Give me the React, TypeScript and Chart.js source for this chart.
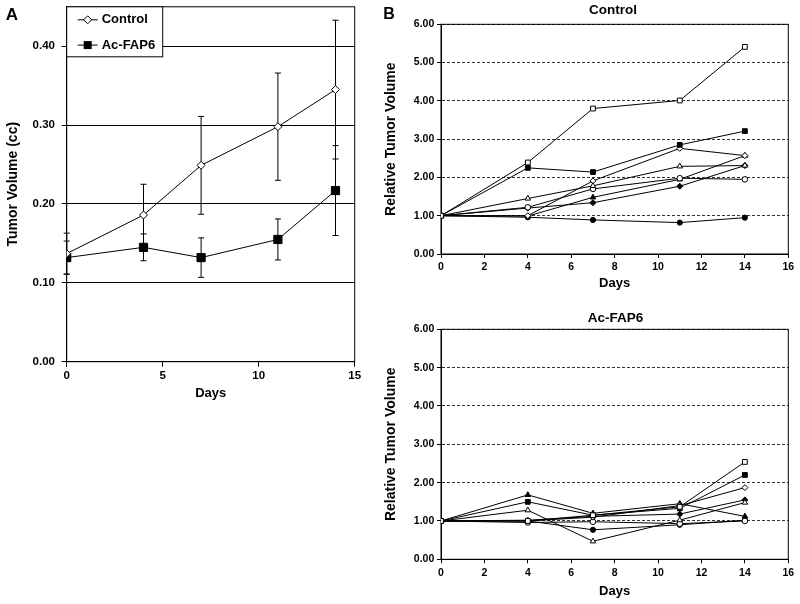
import React, { useEffect, useRef } from 'react';
import { Chart, registerables } from 'chart.js';
Chart.register(...registerables);

const FONT = "'Liberation Sans', Arial, Helvetica, sans-serif";

// ---------- Panel A data ----------
const daysA = [0, 4, 7, 11, 14];
const controlMean = [0.137, 0.186, 0.249, 0.298, 0.345];
const controlErr = [0.026, 0.039, 0.062, 0.068, 0.088];
const acMean = [0.132, 0.145, 0.132, 0.155, 0.217];
const acErr = [0.021, 0.017, 0.025, 0.026, 0.057];

// ---------- Panel B data ----------
const daysB = [0, 4, 7, 11, 14];
// Control mice
const ctrlOpenSquare = [1, 2.39, 3.8, 4.01, 5.41];
const ctrlFilledSquare = [1, 2.25, 2.14, 2.85, 3.21];
const ctrlOpenTriangle = [1, 1.45, 1.78, 2.29, 2.31];
const ctrlOpenDiamond = [1, 1.0, 1.91, 2.76, 2.57];
const ctrlOpenCircle = [1, 1.22, 1.7, 1.98, 1.95];
const ctrlFilledTriangle = [1, 0.99, 1.48, 1.95, 2.57];
const ctrlFilledDiamond = [1, 1.2, 1.34, 1.77, 2.31];
const ctrlFilledCircle = [1, 0.96, 0.89, 0.82, 0.95];
// Ac-FAP6 mice
const acOpenSquare = [1, 1.0, 1.15, 1.37, 2.54];
const acFilledSquare = [1, 1.5, 1.15, 1.33, 2.2];
const acOpenDiamond = [1, 1.0, 1.1, 1.4, 1.87];
const acFilledTriangle = [1, 1.68, 1.2, 1.45, 1.12];
const acOpenTriangle = [1, 1.28, 0.47, 1.02, 1.48];
const acFilledDiamond = [1, 1.02, 1.12, 1.18, 1.55];
const acOpenCircle = [1, 0.96, 0.98, 0.93, 1.0];
const acFilledCircle = [1, 1.0, 0.77, 0.9, 1.02];

const yTicksA = { min: 0, max: 0.45, step: 0.1 };
const xTicksA = { min: 0, max: 15, step: 5 };
const yTicksB = { min: 0, max: 6, step: 1 };
const xTicksB = { min: 0, max: 16, step: 2 };

const markerStyles = [
  { style: 'rect', fill: '#fff', r: 3.4 },
  { style: 'rect', fill: '#000', r: 3.4 },
  { style: 'triangle', fill: '#fff', r: 3.2 },
  { style: 'rectRot', fill: '#fff', r: 3 },
  { style: 'circle', fill: '#fff', r: 2.8 },
  { style: 'triangle', fill: '#000', r: 3.2 },
  { style: 'rectRot', fill: '#000', r: 3 },
  { style: 'circle', fill: '#000', r: 2.6 },
];

const ctrlSeries = [
  ctrlOpenSquare, ctrlFilledSquare, ctrlOpenTriangle, ctrlOpenDiamond,
  ctrlOpenCircle, ctrlFilledTriangle, ctrlFilledDiamond, ctrlFilledCircle,
];
const acSeries = [
  acOpenSquare, acFilledSquare, acOpenTriangle, acOpenDiamond,
  acOpenCircle, acFilledTriangle, acFilledDiamond, acFilledCircle,
];

const framePlugin = {
  id: 'frame',
  beforeDatasetsDraw(chart: any) {
    const { ctx, chartArea: a } = chart;
    ctx.save();
    ctx.strokeStyle = '#000';
    ctx.lineWidth = 1;
    ctx.setLineDash([]);
    ctx.strokeRect(a.left, a.top, a.right - a.left, a.bottom - a.top);
    ctx.restore();
  },
};

const makeErrorPlugin = (errs: number[][]) => ({
  id: 'errorBars',
  beforeDatasetsDraw(chart: any) {
    const { ctx, scales } = chart;
    ctx.save();
    ctx.strokeStyle = '#000';
    ctx.lineWidth = 1;
    chart.data.datasets.forEach((ds: any, di: number) => {
      ds.data.forEach((p: any, i: number) => {
        const e = errs[di][i];
        const x = scales.x.getPixelForValue(p.x);
        const y1 = scales.y.getPixelForValue(p.y + e);
        const y2 = scales.y.getPixelForValue(p.y - e);
        ctx.beginPath();
        ctx.moveTo(x, y1);
        ctx.lineTo(x, y2);
        ctx.moveTo(x - 3, y1);
        ctx.lineTo(x + 3, y1);
        ctx.moveTo(x - 3, y2);
        ctx.lineTo(x + 3, y2);
        ctx.stroke();
      });
    });
    ctx.restore();
  },
});

const legendPlugin = {
  id: 'boxLegend',
  afterDraw(chart: any) {
    const { ctx, chartArea: a } = chart;
    ctx.save();
    const bx = a.left, by = a.top, bw = 96, bh = 50;
    ctx.fillStyle = '#fff';
    ctx.fillRect(bx, by, bw, bh);
    ctx.strokeStyle = '#000';
    ctx.lineWidth = 1;
    ctx.strokeRect(bx, by, bw, bh);
    chart.data.datasets.forEach((ds: any, i: number) => {
      const y = by + 13 + i * 25.3;
      ctx.beginPath();
      ctx.moveTo(bx + 11, y);
      ctx.lineTo(bx + 31, y);
      ctx.stroke();
      const cx = bx + 21;
      if (i === 0) {
        ctx.beginPath();
        ctx.moveTo(cx, y - 4);
        ctx.lineTo(cx + 4, y);
        ctx.lineTo(cx, y + 4);
        ctx.lineTo(cx - 4, y);
        ctx.closePath();
        ctx.fillStyle = '#fff';
        ctx.fill();
        ctx.stroke();
      } else {
        ctx.fillStyle = '#000';
        ctx.fillRect(cx - 4, y - 4, 8, 8);
      }
      ctx.fillStyle = '#000';
      ctx.font = `bold 13px ${FONT}`;
      ctx.textBaseline = 'middle';
      ctx.textAlign = 'left';
      ctx.fillText(ds.label, bx + 35, y);
    });
    ctx.restore();
  },
};

function configA() {
  return {
    type: 'line',
    data: {
      datasets: [
        {
          label: 'Control',
          data: daysA.map((d, i) => ({ x: d, y: controlMean[i] })),
          borderColor: '#000', borderWidth: 1,
          pointStyle: 'rectRot', pointRadius: 4,
          pointBackgroundColor: '#fff', pointBorderColor: '#000', pointBorderWidth: 1,
        },
        {
          label: 'Ac-FAP6',
          data: daysA.map((d, i) => ({ x: d, y: acMean[i] })),
          borderColor: '#000', borderWidth: 1,
          pointStyle: 'rect', pointRadius: 5.8,
          pointBackgroundColor: '#000', pointBorderColor: '#000', pointBorderWidth: 1,
        },
      ],
    },
    options: {
      animation: false, responsive: false, devicePixelRatio: 1,
      layout: { padding: { left: 0, top: 5, right: 20.3, bottom: 0 } },
      plugins: { legend: { display: false }, tooltip: { enabled: false } },
      scales: {
        x: {
          type: 'linear', min: xTicksA.min, max: xTicksA.max,
          ticks: { stepSize: xTicksA.step, includeBounds: false, color: '#000', padding: 2.4, font: { family: FONT, size: 11.5, weight: 'bold' } },
          grid: { drawOnChartArea: false, color: '#000', tickLength: 5 },
          border: { color: '#000' },
          title: { display: true, text: 'Days', color: '#000', font: { family: FONT, size: 13, weight: 'bold' }, padding: { top: 0, bottom: 9.2 } },
          afterFit: (s: any) => { s.height = 48.3; s.paddingLeft = 0; s.paddingRight = 0; },
        },
        y: {
          type: 'linear', min: yTicksA.min, max: yTicksA.max,
          ticks: { stepSize: yTicksA.step, includeBounds: false, color: '#000', padding: 6.7, font: { family: FONT, size: 11.5, weight: 'bold' }, callback: (v: any) => Number(v).toFixed(2) },
          grid: { color: '#000', tickLength: 5 },
          border: { color: '#000' },
          title: { display: true, text: 'Tumor Volume (cc)', color: '#000', font: { family: FONT, size: 14, weight: 'bold' }, padding: { top: 4.6, bottom: 0 } },
          afterFit: (s: any) => { s.width = 66.7; s.paddingTop = 0; s.paddingBottom = 0; },
        },
      },
    },
    plugins: [framePlugin, makeErrorPlugin([controlErr, acErr]), legendPlugin],
  };
}

function configB(series: number[][], padTop: number, xh: number, daysPadBottom: number, xTickPad: number) {
  return {
    type: 'line',
    data: {
      datasets: series.map((vals, si) => ({
        label: `Mouse ${si + 1}`,
        data: daysB.map((d, i) => ({ x: d, y: vals[i] })),
        borderColor: '#000', borderWidth: 1,
        pointStyle: markerStyles[si].style,
        pointRadius: markerStyles[si].r,
        pointBackgroundColor: markerStyles[si].fill,
        pointBorderColor: '#000', pointBorderWidth: 1,
      })),
    },
    options: {
      animation: false, responsive: false, devicePixelRatio: 1,
      layout: { padding: { left: 0, top: padTop, right: 11.7, bottom: 0 } },
      plugins: { legend: { display: false }, tooltip: { enabled: false } },
      scales: {
        x: {
          type: 'linear', min: xTicksB.min, max: xTicksB.max,
          ticks: { stepSize: xTicksB.step, includeBounds: false, color: '#000', padding: xTickPad, font: { family: FONT, size: 10.5, weight: 'bold' } },
          grid: { drawOnChartArea: false, color: '#000', tickLength: 4 },
          border: { color: '#000' },
          title: { display: true, text: 'Days', color: '#000', font: { family: FONT, size: 13, weight: 'bold' }, padding: { top: 0, bottom: daysPadBottom } },
          afterFit: (s: any) => { s.height = xh; s.paddingLeft = 0; s.paddingRight = 0; },
        },
        y: {
          type: 'linear', min: yTicksB.min, max: yTicksB.max,
          ticks: { stepSize: yTicksB.step, includeBounds: false, color: '#000', padding: 2.7, font: { family: FONT, size: 10.5, weight: 'bold' }, callback: (v: any) => Number(v).toFixed(2) },
          grid: { color: '#333', borderDash: [3, 2], tickBorderDash: [], tickColor: '#000', tickLength: 4 },
          border: { color: '#000', dash: [3, 2] },
          title: { display: true, text: 'Relative Tumor Volume', color: '#000', font: { family: FONT, size: 14, weight: 'bold' }, padding: { top: 2.6, bottom: 0 } },
          afterFit: (s: any) => { s.width = 61; s.paddingTop = 0; s.paddingBottom = 0; },
        },
      },
    },
    plugins: [framePlugin],
  };
}

function ChartCanvas({ left, top, width, height, make }: any) {
  const ref = useRef<HTMLCanvasElement>(null);
  useEffect(() => {
    const chart = new Chart(ref.current as HTMLCanvasElement, make());
    return () => chart.destroy();
  }, []);
  return (
    <canvas
      ref={ref}
      width={width}
      height={height}
      style={{ position: 'absolute', left, top, width, height }}
    />
  );
}

function Label({ x, y, size, children }: any) {
  return (
    <div
      style={{
        position: 'absolute', left: x, top: y, transform: 'translate(-50%, -50%)',
        fontFamily: FONT, fontWeight: 'bold', fontSize: size, whiteSpace: 'nowrap', color: '#000',
        lineHeight: 1.15,
      }}
    >
      {children}
    </div>
  );
}

export default function App() {
  return (
    <div style={{ position: 'fixed', left: 0, top: 0, width: 800, height: 604, background: '#fff', overflow: 'hidden' }}>
      <ChartCanvas left={0} top={0} width={375} height={410} make={configA} />
      <ChartCanvas left={380} top={0} width={420} height={300} make={() => configB(ctrlSeries, 24.3, 46, 8.9, 2.4)} />
      <ChartCanvas left={380} top={300} width={420} height={304} make={() => configB(acSeries, 29.3, 44.7, 4.5, 3.4)} />
      <Label x={12} y={14.5} size={17}>A</Label>
      <Label x={389} y={14} size={16}>B</Label>
      <Label x={613} y={10} size={13.5}>Control</Label>
      <Label x={615.5} y={318} size={13.5}>Ac-FAP6</Label>
    </div>
  );
}
